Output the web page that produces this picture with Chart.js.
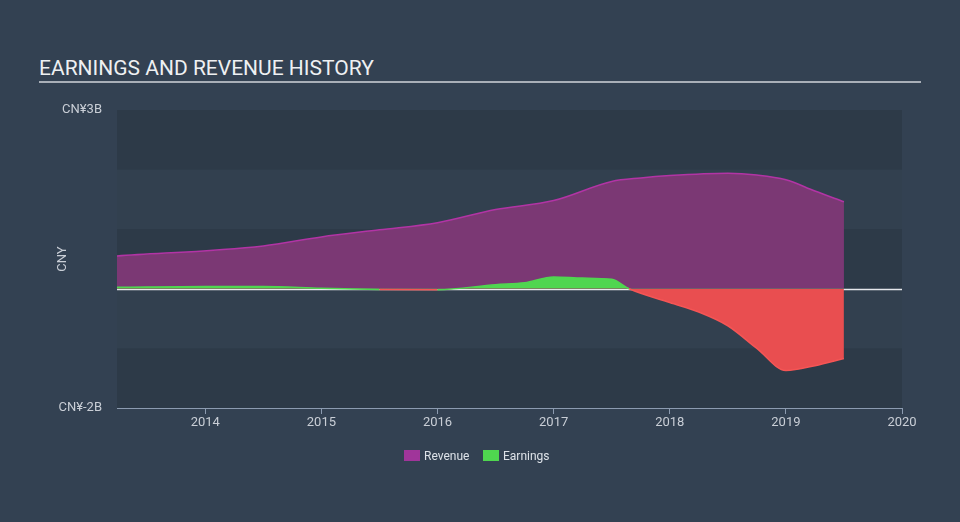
<!DOCTYPE html>
<html><head><meta charset="utf-8">
<script src="https://cdn.jsdelivr.net/npm/chart.js@4/dist/chart.umd.min.js"></script>
<style>
html,body{margin:0;padding:0;}
body{width:960px;height:522px;background:#334152;position:relative;overflow:hidden;font-family:Roboto,"Open Sans",sans-serif;}
#title{position:absolute;left:39px;top:56px;width:882px;color:#eef0f2;font-size:21px;line-height:24px;border-bottom:2px solid #a9afb8;padding-bottom:1px;}
.li{position:absolute;top:448px;font-size:12px;line-height:16px;color:#dde2e8;white-space:nowrap;}
.sw{display:inline-block;width:16px;height:11px;vertical-align:-1px;margin-right:4px;}
canvas{position:absolute;left:0;top:0;}
</style></head>
<body>
<div id="title">EARNINGS AND REVENUE HISTORY</div>
<canvas id="c" width="960" height="522"></canvas>
<span class="li" style="left:404px"><span class="sw" style="background:#a0359a"></span>Revenue</span>
<span class="li" style="left:483px"><span class="sw" style="background:#4fd64f"></span>Earnings</span>
<script>
// Data (CNY billions)
const revenueDates = [2013.24, 2014.5, 2015.0, 2015.5, 2016.0, 2016.5, 2017.0, 2017.5, 2017.75, 2018.0, 2018.5, 2018.75, 2019.0, 2019.25, 2019.5];
const revenueValues = [0.55, 0.72, 0.87, 0.99, 1.11, 1.33, 1.48, 1.80, 1.86, 1.90, 1.94, 1.91, 1.83, 1.64, 1.46];
const earningsDates = [2013.24, 2014.0, 2014.5, 2015.0, 2015.5, 2016.0, 2016.5, 2016.75, 2017.0, 2017.25, 2017.5, 2017.65, 2018.0, 2018.25, 2018.5, 2018.75, 2019.0, 2019.25, 2019.5];
const earningsValues = [0.025, 0.04, 0.04, 0.01, -0.01, -0.015, 0.07, 0.10, 0.20, 0.18, 0.16, 0.0, -0.23, -0.39, -0.62, -1.0, -1.37, -1.29, -1.17];
const xTicks = [2014, 2015, 2016, 2017, 2018, 2019, 2020];
const yTickLabels = {3: 'CN¥3B', '-2': 'CN¥-2B'};

const GREEN = 'rgb(80,214,80)';
const RED = 'rgb(233,78,80)';

const bands = {
  id: 'bands',
  beforeDatasetsDraw(chart) {
    const {ctx, chartArea: a, scales: {y}} = chart;
    ctx.save();
    ctx.fillStyle = '#32404f';
    ctx.fillRect(a.left, a.top, a.right - a.left, a.bottom - a.top);
    ctx.fillStyle = '#2d3a48';
    [[3, 2], [1, 0], [-1, -2]].forEach(([hi, lo]) => {
      const t = y.getPixelForValue(hi), b = y.getPixelForValue(lo);
      ctx.fillRect(a.left, t, a.right - a.left, b - t);
    });
    const z = Math.round(y.getPixelForValue(0)) + 0.5;
    ctx.strokeStyle = '#e6e8ec';
    ctx.lineWidth = 1.5;
    ctx.beginPath(); ctx.moveTo(a.left, z); ctx.lineTo(a.right, z); ctx.stroke();
    ctx.restore();
  }
};

new Chart(document.getElementById('c'), {
  type: 'line',
  data: {
    datasets: [
      {
        label: 'Earnings', order: 0,
        data: earningsDates.map((d, i) => ({x: d, y: earningsValues[i]})),
        borderWidth: 1.5, pointRadius: 0, cubicInterpolationMode: 'monotone',
        borderColor: GREEN,
        segment: {borderColor: c => (c.p0.parsed.y + c.p1.parsed.y < 0) ? 'rgb(245,85,85)' : GREEN},
        fill: {target: 'origin', above: GREEN, below: RED}
      },
      {
        label: 'Revenue', order: 1,
        data: revenueDates.map((d, i) => ({x: d, y: revenueValues[i]})),
        borderWidth: 1.5, pointRadius: 0, cubicInterpolationMode: 'monotone',
        borderColor: 'rgb(178,52,165)',
        backgroundColor: 'rgb(123,56,116)',
        fill: 'origin'
      }
    ]
  },
  options: {
    responsive: false, animation: false,
    layout: {padding: {left: 0, top: 110, right: 58, bottom: 84}},
    plugins: {legend: {display: false}, tooltip: {enabled: false}},
    scales: {
      x: {
        type: 'linear', min: 2013.24, max: 2020,
        afterBuildTicks: s => { s.ticks = xTicks.map(v => ({value: v})); },
        afterFit: s => { s.height = 30; },
        ticks: {color: '#c9ced6', font: {family: 'Roboto', size: 13}, padding: 1, callback: v => String(v)},
        grid: {drawOnChartArea: false, drawTicks: true, tickLength: 6, color: '#8c9bb0'},
        border: {display: true, color: '#8c9bb0', width: 1}
      },
      y: {
        min: -2, max: 3,
        afterBuildTicks: s => { s.ticks = [-2, -1, 0, 1, 2, 3].map(v => ({value: v})); },
        afterFit: s => { s.width = 117; },
        ticks: {color: '#c9ced6', font: {family: 'Roboto', size: 13}, padding: 15,
          callback: v => yTickLabels[v] || ''},
        grid: {display: false, drawTicks: false},
        border: {display: false},
        title: {display: true, text: 'CNY', color: '#c9ced6', font: {family: 'Roboto', size: 13}, padding: {top: 55, bottom: 0}}
      }
    }
  },
  plugins: [bands]
});
</script>
</body></html>
